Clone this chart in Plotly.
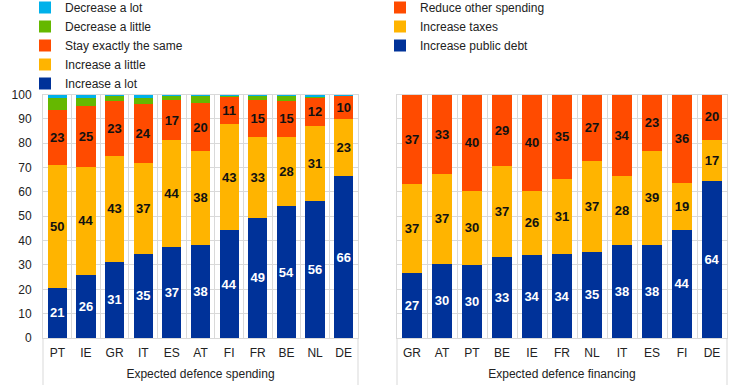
import plotly.graph_objects as go

# Left panel: expected defence spending
countries_spend = ["PT", "IE", "GR", "IT", "ES", "AT", "FI", "FR", "BE", "NL", "DE"]
increase_lot = [20.7, 26.0, 31.4, 34.7, 37.3, 38.4, 44.3, 49.3, 54.2, 56.1, 66.4]
increase_little = [50.2, 44.2, 43.4, 37.0, 43.9, 38.2, 43.4, 33.3, 28.2, 30.9, 23.4]
stay_same = [22.8, 24.9, 22.7, 24.2, 16.6, 20.0, 11.1, 15.2, 15.1, 11.8, 9.8]
decrease_little = [4.9, 3.4, 2.2, 2.6, 2.0, 3.2, 1.0, 1.8, 2.1, 0.6, 0.2]
decrease_lot = [1.4, 1.5, 0.3, 1.5, 0.2, 0.2, 0.2, 0.4, 0.4, 0.6, 0.2]

# Right panel: expected defence financing
countries_fin = ["GR", "AT", "PT", "BE", "IE", "FR", "NL", "IT", "ES", "FI", "DE"]
public_debt = [26.8, 30.4, 30.0, 33.3, 34.2, 34.4, 35.4, 38.2, 38.4, 44.4, 64.4]
taxes = [36.6, 37.0, 30.4, 37.4, 26.2, 30.8, 37.4, 28.2, 38.6, 19.4, 16.8]
reduce_spending = [36.6, 32.6, 39.6, 29.3, 39.6, 34.8, 27.2, 33.6, 23.0, 36.2, 19.6]

C_BLUE = "#003299"
C_YELLOW = "#FFB400"
C_RED = "#FF4B00"
C_GREEN = "#65B800"
C_LBLUE = "#00B1EA"

FONT = "Liberation Sans, Arial, sans-serif"
GRID = "#d9d9d9"
TXT = "#222222"

fig = go.Figure()

def add_bar(x, y, name, color, xaxis, yaxis, legend, label_color=None):
    kw = {}
    if label_color:
        kw = dict(
            texttemplate="%{y:.0f}",
            textposition="inside",
            insidetextanchor="middle",
            textangle=0,
            constraintext="none",
            insidetextfont=dict(family=FONT, size=13, color=label_color, weight="bold"),
        )
    fig.add_trace(go.Bar(
        x=x, y=y, name=name, marker=dict(color=color, line=dict(width=0)),
        xaxis=xaxis, yaxis=yaxis, legend=legend, hoverinfo="skip", **kw
    ))

add_bar(countries_spend, increase_lot, "Increase a lot", C_BLUE, "x", "y", "legend", "white")
add_bar(countries_spend, increase_little, "Increase a little", C_YELLOW, "x", "y", "legend", "#111111")
add_bar(countries_spend, stay_same, "Stay exactly the same", C_RED, "x", "y", "legend", "#111111")
add_bar(countries_spend, decrease_little, "Decrease a little", C_GREEN, "x", "y", "legend")
add_bar(countries_spend, decrease_lot, "Decrease a lot", C_LBLUE, "x", "y", "legend")

add_bar(countries_fin, public_debt, "Increase public debt", C_BLUE, "x2", "y2", "legend2", "white")
add_bar(countries_fin, taxes, "Increase taxes", C_YELLOW, "x2", "y2", "legend2", "#111111")
add_bar(countries_fin, reduce_spending, "Reduce other spending", C_RED, "x2", "y2", "legend2", "#111111")

ydom = [47 / 385, 290.5 / 385]
xdom1 = [43 / 744, 358 / 744]
xdom2 = [397 / 744, 727 / 744]

def xaxis_cfg(domain, anchor, title):
    return dict(
        type="category", tickson="boundaries", showgrid=True, gridcolor=GRID, gridwidth=1,
        showline=True, linecolor=GRID, linewidth=1, mirror=True, ticks="",
        tickfont=dict(family=FONT, size=12, color=TXT), automargin=False,
        ticklabelstandoff=4,
        domain=domain, anchor=anchor, fixedrange=True,
        title=dict(text=title, font=dict(family=FONT, size=12, color=TXT), standoff=10),
    )

def yaxis_cfg(anchor, show_labels):
    return dict(
        range=[0, 100], dtick=10, showgrid=True, gridcolor=GRID, gridwidth=1,
        showline=True, linecolor=GRID, mirror=True, ticks="", domain=ydom,
        tickfont=dict(family=FONT, size=12, color=TXT), zeroline=False,
        automargin=False, anchor=anchor, showticklabels=show_labels,
        ticklabelstandoff=8, fixedrange=True,
    )

LEG_Y = 1 + 7 / 385

fig.update_layout(
    width=744, height=385,
    margin=dict(l=0, r=0, t=0, b=0, autoexpand=False),
    paper_bgcolor="white", plot_bgcolor="white",
    barmode="stack", bargap=0.33,
    font=dict(family=FONT, size=12, color=TXT),
    xaxis=xaxis_cfg(xdom1, "y", "Expected defence spending"),
    xaxis2=xaxis_cfg(xdom2, "y2", "Expected defence financing"),
    yaxis=yaxis_cfg("x", True),
    yaxis2=yaxis_cfg("x2", False),
    legend=dict(x=25 / 744, y=LEG_Y, xanchor="left", yanchor="top", traceorder="reversed",
                bgcolor="rgba(0,0,0,0)", font=dict(family=FONT, size=12, color=TXT),
                itemclick=False, itemdoubleclick=False),
    legend2=dict(x=380 / 744, y=LEG_Y, xanchor="left", yanchor="top", traceorder="reversed",
                 bgcolor="rgba(0,0,0,0)", font=dict(family=FONT, size=12, color=TXT),
                 itemclick=False, itemdoubleclick=False),
    showlegend=True,
)

# vertical frame lines extending below the plot areas
for xr in ["x domain", "x2 domain"]:
    for xv in [0, 1]:
        fig.add_shape(type="line", xref=xr, x0=xv, x1=xv, yref="paper", y0=0, y1=ydom[0],
                      line=dict(color=GRID, width=1))

fig.write_html("out.html", config={"displayModeBar": False},
               post_script="document.body.style.margin='0px';")
